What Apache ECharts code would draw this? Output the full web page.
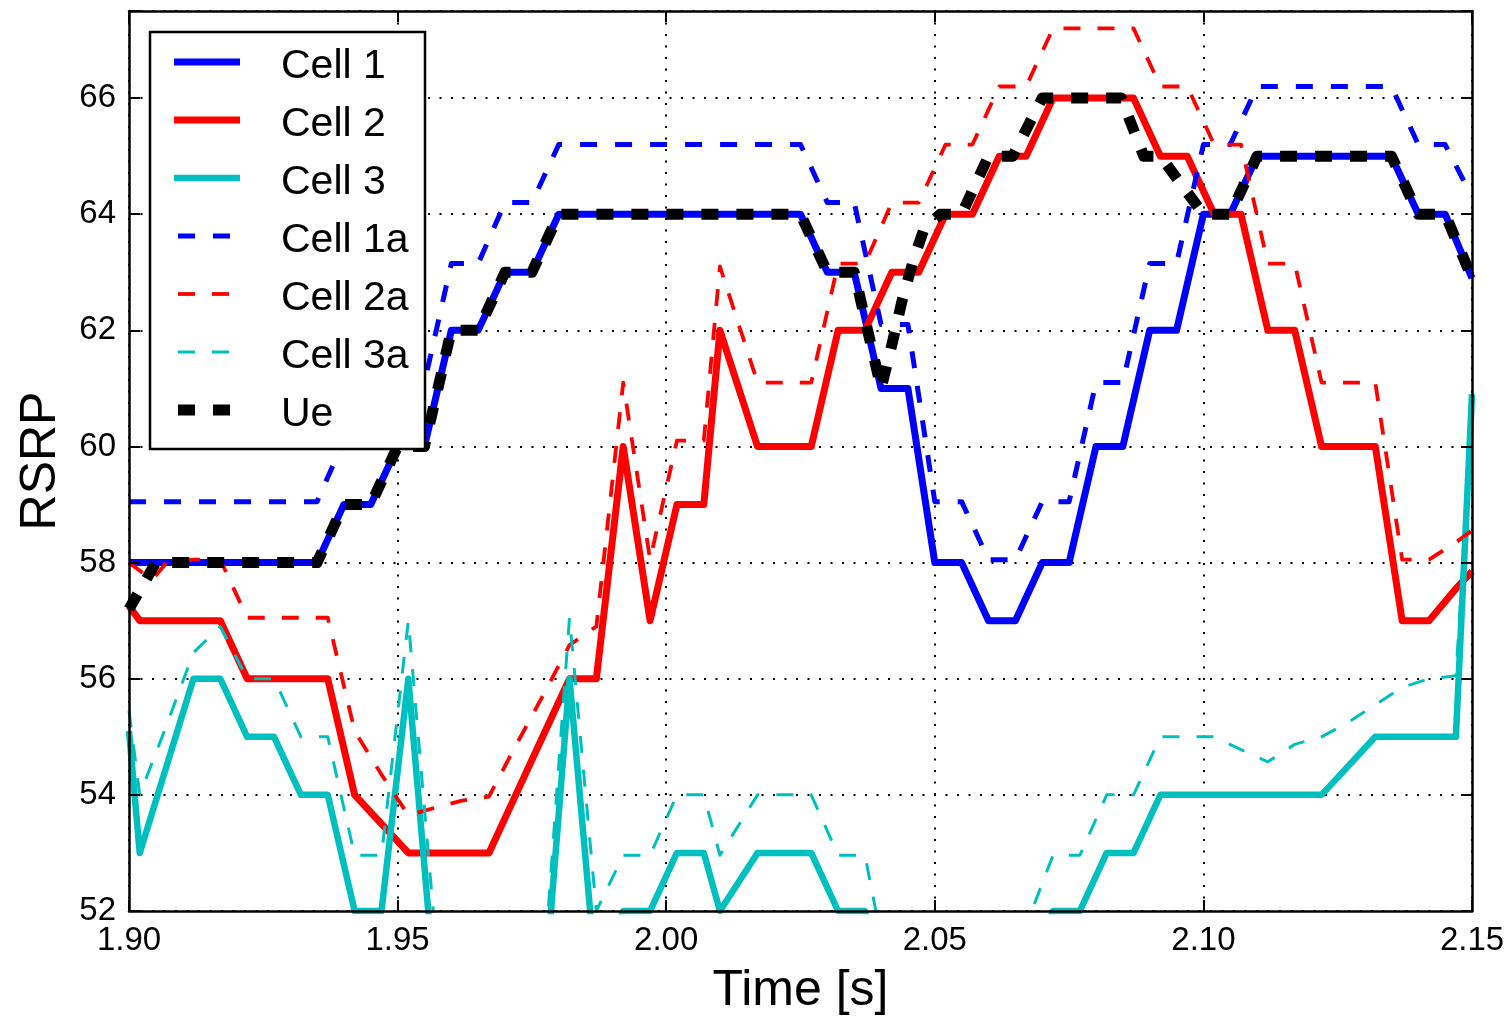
<!DOCTYPE html>
<html><head><meta charset="utf-8">
<script src="https://cdn.jsdelivr.net/npm/echarts@6/dist/echarts.min.js"></script>
<style>html,body{margin:0;padding:0;background:#fff}#c{width:1511px;height:1017px}</style>
</head><body><div id="c"></div>
<script>
// ---------------- data ----------------
const xTickLabels = ['1.90','1.95','2.00','2.05','2.10','2.15'];
const yTickLabels = ['52','54','56','58','60','62','64','66'];
const seriesNames = ['Cell 1','Cell 2','Cell 3','Cell 1a','Cell 2a','Cell 3a','Ue'];

// time grid of Cell 1 / Cell 1a samples [s]
const tCell1 = [1.900,1.905,1.910,1.915,1.920,1.925,1.930,1.935,1.940,1.945,
  1.950,1.955,1.960,1.965,1.970,1.975,1.980,1.985,1.990,1.995,
  2.000,2.005,2.010,2.015,2.020,2.025,2.030,2.035,2.040,2.045,
  2.050,2.055,2.060,2.065,2.070,2.075,2.080,2.085,2.090,2.095,
  2.100,2.105,2.110,2.115,2.120,2.125,2.130,2.135,2.140,2.145,2.150];
const cell1 = [58,58,58,58,58,58,58,58,59,59,
  60,60,62,62,63,63,64,64,64,64,
  64,64,64,64,64,64,63,63,61,61,
  58,58,57,57,58,58,60,60,62,62,
  64,64,65,65,65,65,65,65,64,64,62.9];
const cell1a = [59.05,59.05,59.05,59.05,59.05,59.05,59.05,59.05,60.1,60.1,
  61.1,61.1,63.15,63.15,64.2,64.2,65.2,65.2,65.2,65.2,
  65.2,65.2,65.2,65.2,65.2,65.2,64.2,64.2,62.1,62.1,
  59.05,59.05,58.05,58.05,59.05,59.05,61.1,61.1,63.15,63.15,
  65.2,65.2,66.2,66.2,66.2,66.2,66.2,66.2,65.2,65.2,64.3];

// time grid of Cell 2 / Cell 3 / Cell 3a samples [s]
const tCell23 = [1.900,1.902,1.907,1.912,1.917,1.922,1.927,1.932,1.937,1.942,
  1.947,1.952,1.957,1.962,1.967,1.972,1.977,1.982,1.987,1.992,
  1.997,2.002,2.007,2.010,2.017,2.022,2.027,2.032,2.037,2.042,
  2.047,2.052,2.057,2.062,2.067,2.072,2.077,2.082,2.087,2.092,
  2.097,2.102,2.107,2.112,2.117,2.122,2.127,2.132,2.137,2.142,2.147,2.150];
const cell2 = [57.25,57,57,57,57,56,56,56,56,54,
  53.5,53,53,53,53,54,55,56,56,60,
  57,59,59,62,60,60,60,62,62,63,
  63,64,64,65,65,66,66,66,66,65,
  65,64,64,62,62,60,60,60,57,57,57.55,57.85];
const cell3 = [55.1,53,54.5,56,56,55,55,54,54,52,
  52,56,50.6,50,50,50,50.2,56,50.8,52,
  52,53,53,52,53,53,53,52,52,49.7,
  50,50,50,50,50.8,52,52,53,53,54,
  54,54,54,54,54,54,54.5,55,55,55,55,60.9];
const cell3a = [55.45,54.0,55.2,56.45,56.9,56.0,56.0,55.0,55.0,52.96,
  52.96,57.0,51.6,51.0,51.0,51.0,50.7,57.05,52.0,52.96,
  52.96,54.0,54.0,52.96,54.0,54.0,54.0,52.96,52.96,50.6,
  50.5,50.5,50.5,50.5,51.75,52.96,52.96,54.0,54.0,55.0,
  55.0,55.0,54.78,54.57,54.87,55.0,55.25,55.55,55.85,56.0,56.05,60.5];

// Cell 2a samples [s]
const tCell2a = [1.900,1.9043,1.907,1.912,1.917,1.922,1.927,1.932,1.937,1.942,
  1.947,1.952,1.957,1.962,1.967,1.972,1.977,1.982,1.987,1.992,
  1.997,2.002,2.007,2.010,2.017,2.022,2.027,2.032,2.037,2.042,
  2.047,2.052,2.057,2.062,2.067,2.072,2.077,2.082,2.087,2.092,
  2.097,2.102,2.107,2.112,2.117,2.122,2.127,2.132,2.137,2.142,2.147,2.150];
const cell2a = [58.0,57.7,58.0,58.05,58.05,57.05,57.05,57.05,57.05,55.1,
  54.35,53.65,53.78,53.9,53.97,54.85,55.7,56.58,56.9,61.1,
  58.05,60.1,60.1,63.1,61.1,61.1,61.1,63.15,63.15,64.2,
  64.2,65.2,65.2,66.2,66.2,67.2,67.2,67.2,67.2,66.2,
  66.2,65.2,65.2,63.15,63.15,61.1,61.1,61.1,58.05,58.05,58.35,58.55];

// Ue samples [s]
const tUe = [1.900,1.905,1.935,1.940,1.945,1.950,1.955,1.960,1.965,1.970,1.975,1.980,
  2.025,2.030,2.035,2.040,2.042,2.044,2.046,2.048,2.051,2.055,2.060,2.0645,2.070,
  2.0847,2.0889,2.092,2.100,2.105,2.110,2.135,2.140,2.145,2.150];
const ue = [57.2,58,58,59,59,60,60,62,62,63,63,64,
  64,63,63,61,61.75,62.55,63.2,63.75,64,64,65,65,66,
  66,65,65,64,64,65,65,64,64,62.9];

// ---------------- chart ----------------
const FONT = "'Liberation Sans', Arial, Helvetica, sans-serif";
const zip = (t, v) => t.map((x, i) => [x, v[i]]);

const styles = {
  'Cell 1':  {color:'#0000ff', width:7,   dash:null},
  'Cell 2':  {color:'#ff0000', width:7,   dash:null},
  'Cell 3':  {color:'#00bfbf', width:6.5, dash:null},
  'Cell 1a': {color:'#0000ff', width:5,   dash:[17,18]},
  'Cell 2a': {color:'#ff0000', width:3.8, dash:[17,17]},
  'Cell 3a': {color:'#00bfbf', width:3,   dash:[17,17]},
  'Ue':      {color:'#000000', width:11,  dash:[17,18]}
};
const dataBy = {
  'Cell 1': zip(tCell1, cell1),
  'Cell 2': zip(tCell23, cell2),
  'Cell 3': zip(tCell23, cell3),
  'Cell 1a': zip(tCell1, cell1a),
  'Cell 2a': zip(tCell2a, cell2a),
  'Cell 3a': zip(tCell23, cell3a),
  'Ue': zip(tUe, ue)
};

const xMin = parseFloat(xTickLabels[0]), xMax = parseFloat(xTickLabels[xTickLabels.length-1]);
const yMin = parseFloat(yTickLabels[0]), yMax = 67.5;
const tickStyle = {show:true, inside:true, length:11, lineStyle:{color:'#000', width:2}};
const frameLine = {show:true, onZero:false, lineStyle:{color:'#000', width:2.5}};

function xAx(extra) {
  return Object.assign({type:'value', min:xMin, max:xMax, interval:0.05, gridIndex:0}, extra);
}
function yAx(extra) {
  return Object.assign({type:'value', min:yMin, max:yMax, interval:2, gridIndex:0}, extra);
}

const series = seriesNames.map((n) => {
  const s = styles[n];
  return {
    name:n, type:'line', data:dataBy[n], xAxisIndex:0, yAxisIndex:0,
    symbol:'none', showSymbol:false, animation:false, clip:true,
    lineStyle:{color:s.color, width:s.width, type:s.dash ? s.dash : 'solid', cap:'butt', join:'round'},
    itemStyle:{color:s.color}, emphasis:{disabled:true}
  };
});

// legend drawn as graphic
const legendEls = [{
  type:'rect', shape:{x:150, y:32, width:275, height:417},
  style:{fill:'#fff', stroke:'#000', lineWidth:2.5}, z:100
}];
seriesNames.forEach((n, i) => {
  const s = styles[n];
  const y = 62 + i * 58;
  const x1 = s.dash ? 178 : 174, x2 = s.dash ? 230 : 240;
  legendEls.push({
    type:'line', shape:{x1:x1, y1:y, x2:x2, y2:y},
    style:{stroke:s.color, lineWidth:s.width, lineDash:s.dash || null, lineCap:'butt'}, z:101
  });
  legendEls.push({
    type:'text', x:281, y:y + 5,
    style:{text:n, fill:'#000', font:'41px ' + FONT, textAlign:'left', textVerticalAlign:'middle'}, z:101
  });
});

const chart = echarts.init(document.getElementById('c'), null, {renderer:'canvas'});
chart.setOption({
  animation:false,
  backgroundColor:'#fff',
  grid:{left:129, right:39, top:11, bottom:106, containLabel:false, outerBoundsMode:'none'},
  xAxis:[
    xAx({position:'bottom', axisLine:{show:false}, axisTick:{show:false},
      axisLabel:{show:true, margin:13, fontSize:33, color:'#000', fontFamily:FONT,
        formatter:(v) => v.toFixed(2)},
      splitLine:{show:true, lineStyle:{color:'#000', width:2, type:[2,9.5]}},
      name:'Time [s]', nameLocation:'middle', nameGap:55,
      nameTextStyle:{fontSize:50, color:'#000', fontFamily:FONT}, z:0}),
    xAx({position:'bottom', axisLine:frameLine, axisTick:tickStyle, axisLabel:{show:false}, splitLine:{show:false}, z:10}),
    xAx({position:'top', axisLine:frameLine, axisTick:tickStyle, axisLabel:{show:false}, splitLine:{show:false}, z:10})
  ],
  yAxis:[
    yAx({position:'left', axisLine:{show:false}, axisTick:{show:false},
      axisLabel:{show:true, margin:13, fontSize:33, color:'#000', fontFamily:FONT, showMaxLabel:false,
        formatter:(v) => (Math.abs(v/2 - Math.round(v/2)) < 1e-6 ? String(Math.round(v)) : '')},
      splitLine:{show:true, lineStyle:{color:'#000', width:2, type:[2,9.5]}},
      name:'RSRP', nameLocation:'middle', nameGap:63,
      nameTextStyle:{fontSize:50, color:'#000', fontFamily:FONT}, z:0}),
    yAx({position:'left', axisLine:frameLine, axisTick:tickStyle, axisLabel:{show:false}, splitLine:{show:false}, z:10}),
    yAx({position:'right', axisLine:frameLine, axisTick:tickStyle, axisLabel:{show:false}, splitLine:{show:false}, z:10})
  ],
  series:series,
  graphic:{elements:legendEls}
});
</script>
</body></html>
